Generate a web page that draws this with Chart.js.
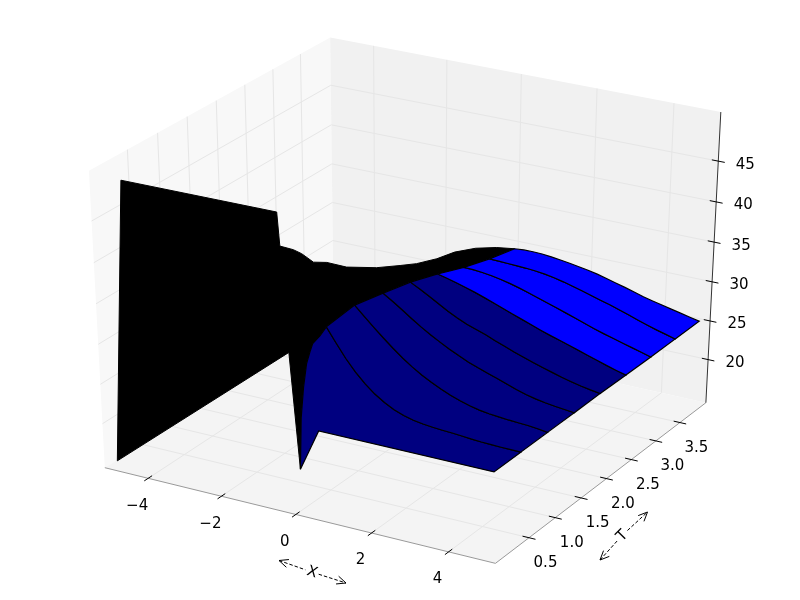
<!DOCTYPE html><html><head><meta charset="utf-8"><style>html,body{margin:0;background:#fff}canvas{display:block}</style>
<script src="https://cdn.jsdelivr.net/npm/chart.js@4"></script></head><body><canvas id="c" width="800" height="600"></canvas>
<script>
// Axis limits and ticks
const xLimits=[-5.2,5.2], tLimits=[-0.125,4.05], zLimits=[14.34,50.93];
const xTicks=[-4,-2,0,2,4];
const tTicks=[0.5,1,1.5,2,2.5,3,3.5];
const zTicks=[20,25,30,35,40,45];
const xTickLabels=['\u22124','\u22122','0','2','4'];
const tTickLabels=['0.5','1.0','1.5','2.0','2.5','3.0','3.5'];
const zTickLabels=['20','25','30','35','40','45'];
// Surface rows: one maturity T, z at each gridX
const rowT=[-0.03,0.46,0.96,1.47,1.97,2.48,2.98,3.48,3.98];
const rowX0=[0,0.5,5];
const rowZ0=[19.62,24.96,25];
const gridX=[0,0.25,0.5,0.75,1,1.25,1.5,1.75,2,2.25,2.5,2.75,3,3.25,3.5,3.75,4,4.25,4.5,4.75,5];
const rowZ1=[34.95,33.24,31.61,30.21,29.02,28.04,27.26,26.65,26.21,25.89,25.70,25.58,25.49,25.42,25.33,25.23,25.15,25.10,25.07,25.05,25.02];
const rowZ2=[35.37,34.24,33.15,32.11,31.11,30.18,29.34,28.61,27.97,27.41,26.91,26.48,26.14,25.88,25.70,25.58,25.48,25.41,25.34,25.22,25.05];
const rowZ3=[34.58,33.85,33.05,32.23,31.45,30.73,30.08,29.47,28.90,28.38,27.94,27.54,27.14,26.72,26.32,25.97,25.69,25.47,25.31,25.18,25.05];
const rowZ4=[33.77,33.16,32.51,31.83,31.17,30.57,30.06,29.65,29.25,28.77,28.35,27.9,27.5,27.1,26.75,26.4,26.05,25.76,25.5,25.28,25.10];
const rowZ5=[32.57,32.29,31.98,31.64,31.27,30.87,30.45,30.02,29.59,29.16,28.74,28.32,27.93,27.57,27.20,26.83,26.45,26.07,25.70,25.36,25.04];
const rowZ6=[31.24,31.20,31.10,30.93,30.71,30.44,30.13,29.77,29.39,29.01,28.63,28.24,27.84,27.43,27.04,26.68,26.35,26.02,25.69,25.36,25.03];
const rowZ7=[30.18,30.13,30.08,30.03,29.97,29.88,29.73,29.51,29.25,28.95,28.61,28.26,27.92,27.59,27.23,26.83,26.42,26.04,25.69,25.37,25.05];
const rowZ8=[29.34,29.43,29.45,29.40,29.29,29.13,28.96,28.77,28.56,28.31,28.01,27.69,27.37,27.02,26.67,26.38,26.12,25.85,25.59,25.33,25.07];
// x = 0 edge between the first two rows
const edgeT=[0,0.05,0.11,0.17,0.22,0.35];
const edgeZ=[25.9,29.41,32.07,33.18,33.99,34.36];
// Dark part of the surface: wall at the first row, ridge, far x = -5 edge
const wallX=[-5,-4.52,-0.48];
const wallZ=[14.99,50.08,50.21];
const ridgeT=[0.3,0.5,0.7,0.9,1.1,1.4,1.9,2.3,2.6,2.9,3.2,3.5,3.7];
const ridgeX=[-0.93,-0.89,-0.98,-0.98,-0.93,-0.86,-0.80,-0.75,-0.74,-0.62,-0.56,-0.41,-0.12];
const ridgeZ=[44.40,43.16,41.74,39.86,39.02,37.23,35.06,33.66,32.61,32.06,31.68,31.04,30.57];
const farEdge=[-5,3.05,14.7];

const rowsZ=[rowZ0,rowZ1,rowZ2,rowZ3,rowZ4,rowZ5,rowZ6,rowZ7,rowZ8];
const DARK='#000080', BLUE='#0000ff', BLACK='#000000';

// mplot3d view: elev 30, azim -60, dist 10
const U=[0.8660254,0.5,0],V=[-0.25,0.4330127,0.8660254],N=[0.4330127,-0.75,0.5];
const SX=4509,SY=3390,CX=410,CY=291.5;
function proj(x,t,z){
  const q=[(x-xLimits[0])/(xLimits[1]-xLimits[0])-.5,(t-tLimits[0])/(tLimits[1]-tLimits[0])-.5,(z-zLimits[0])/(zLimits[1]-zLimits[0])-.5];
  const d=(a)=>a[0]*q[0]+a[1]*q[1]+a[2]*q[2];
  const w=10-d(N);
  return {x:CX+SX*d(U)/w,y:CY-SY*d(V)/w};
}
const [x0,x1]=xLimits,[t0,t1]=tLimits,[z0,z1]=zLimits;
const ds=[];
function add(pts,o){ds.push(Object.assign({data:pts.map(p=>proj(p[0],p[1],p[2])),showLine:true,pointRadius:0,borderWidth:0,borderColor:'transparent',fill:false,tension:0,clip:false,order:-ds.length},o));}
function poly(pts,color,bw,bc){add(pts.concat([pts[0]]),{fill:'shape',backgroundColor:color,borderColor:bc||color,borderWidth:bw||0});}
function line(pts,color,w,dash){add(pts,{borderColor:color,borderWidth:w,borderDash:dash||[]});}

// panes
poly([[x0,t0,z0],[x0,t1,z0],[x0,t1,z1],[x0,t0,z1]],'#f8f8f8');
poly([[x0,t1,z0],[x1,t1,z0],[x1,t1,z1],[x0,t1,z1]],'#f1f1f1');
poly([[x0,t0,z0],[x1,t0,z0],[x1,t1,z0],[x0,t1,z0]],'#f4f4f4');
// grid
const GRID='#e6e6e6';
xTicks.forEach(x=>line([[x,t0,z0],[x,t1,z0],[x,t1,z1]],GRID,1));
tTicks.forEach(t=>line([[x1,t,z0],[x0,t,z0],[x0,t,z1]],GRID,1));
zTicks.forEach(z=>line([[x0,t0,z],[x0,t1,z],[x1,t1,z]],GRID,1));
// axes
line([[x0,t0,z0],[x1,t0,z0]],'#999999',1);
line([[x1,t0,z0],[x1,t1,z0]],'#999999',1);
line([[x1,t1,z0],[x1,t1,z1]],'#333333',1);
const dXn=0.016*(x1-x0), dTn=0.016*(t1-t0);
xTicks.forEach(x=>line([[x,t0-dTn,z0],[x,t0+dTn,z0]],'#000',1));
tTicks.forEach(t=>line([[x1-dXn,t,z0],[x1+dXn,t,z0]],'#000',1));
zTicks.forEach(z=>line([[x1-dXn,t1,z],[x1+dXn,t1,z]],'#000',1));

// dark part of surface
const rowPts=j=>(j===0?rowX0:gridX).map((x,i)=>[x,rowT[j],rowsZ[j][i]]);
const edgePts=edgeT.map((t,i)=>[gridX[0],t,edgeZ[i]]);
const dark=[];
wallX.forEach((x,i)=>dark.push([x,rowT[0],wallZ[i]]));
ridgeT.forEach((t,i)=>dark.push([ridgeX[i],t,ridgeZ[i]]));
for(let j=8;j>=1;j--)dark.push(rowPts(j)[0]);
edgePts.slice().reverse().forEach(p=>dark.push(p));
dark.push(rowPts(0)[0]);
dark.push(farEdge);
poly(dark,BLACK,1,BLACK);
// shaded bands
for(let j=0;j<8;j++){
  let pts=rowPts(j).concat(rowPts(j+1).reverse());
  if(j===0)pts=pts.concat(edgePts.slice().reverse());
  poly(pts,j<5?DARK:BLUE,1.2,BLACK);
}

const FONT='15px "DejaVu Sans"';
function txt(ctx,s,x,y,rot){ctx.save();ctx.translate(x,y);ctx.rotate(rot||0);ctx.fillStyle='#000';ctx.font=FONT;ctx.textAlign='center';ctx.textBaseline='middle';ctx.fillText(s,0,0);ctx.restore();}
function arrow(ctx,a,b,c){ // dashed double headed arrow with a gap at c
  ctx.save();ctx.strokeStyle='#000';ctx.lineWidth=1;
  const ang=Math.atan2(b[1]-a[1],b[0]-a[0]);
  const g=7;
  ctx.setLineDash([3.5,2]);ctx.beginPath();
  ctx.moveTo(a[0],a[1]);ctx.lineTo(c[0]-g*Math.cos(ang),c[1]-g*Math.sin(ang));
  ctx.moveTo(c[0]+g*Math.cos(ang),c[1]+g*Math.sin(ang));ctx.lineTo(b[0],b[1]);ctx.stroke();
  ctx.setLineDash([]);ctx.beginPath();
  [[a,ang],[b,ang+Math.PI]].forEach(([p,an])=>{
    ctx.moveTo(p[0]+10*Math.cos(an+.42),p[1]+10*Math.sin(an+.42));ctx.lineTo(p[0],p[1]);ctx.lineTo(p[0]+10*Math.cos(an-.42),p[1]+10*Math.sin(an-.42));
  });ctx.stroke();ctx.restore();
}
const labels={id:'labels',afterDraw(ch){
  const ctx=ch.ctx;
  xTicks.forEach((x,i)=>{const p=proj(x,t0,z0);txt(ctx,xTickLabels[i],p.x-11,p.y+27.5);});
  tTicks.forEach((t,i)=>{const p=proj(x1,t,z0);txt(ctx,tTickLabels[i],p.x+16.5,p.y+25.5);});
  zTicks.forEach((z,i)=>{const p=proj(x1,t1,z);txt(ctx,zTickLabels[i],p.x+27,p.y+3.5);});
  arrow(ctx,[279,560.5],[346,583],[312,572]);txt(ctx,'X',312,572.5,0.32);
  arrow(ctx,[600,560],[647.5,512],[622.5,535.5]);txt(ctx,'T',622.5,536,-0.79);
}};
new Chart(document.getElementById('c'),{type:'scatter',data:{datasets:ds},plugins:[labels],options:{
  responsive:false,animation:false,events:[],layout:{padding:0},
  plugins:{legend:{display:false},title:{display:false},tooltip:{enabled:false}},
  scales:{x:{type:'linear',min:0,max:800,display:false},y:{type:'linear',min:0,max:600,reverse:true,display:false}}
}});
</script></body></html>
